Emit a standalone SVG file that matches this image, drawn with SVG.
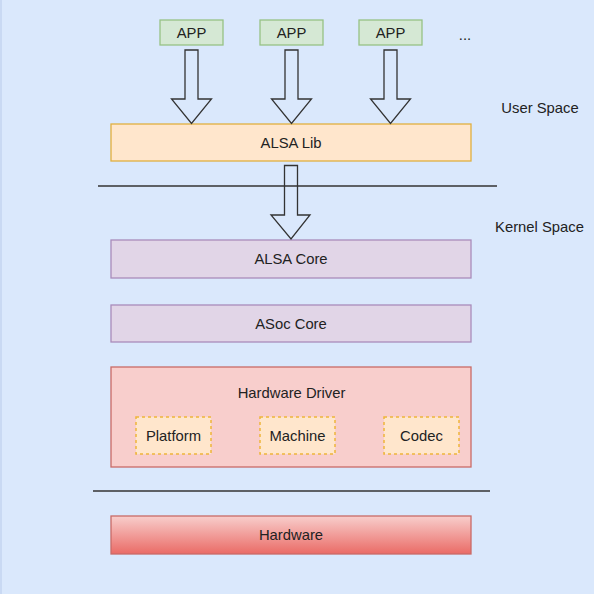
<svg xmlns="http://www.w3.org/2000/svg" width="594" height="594" viewBox="0 0 594 594">
<defs>
<linearGradient id="hwg" x1="0" y1="0" x2="0" y2="1">
<stop offset="0" stop-color="#f8cecc"/>
<stop offset="1" stop-color="#ea6b66"/>
</linearGradient>
<style>
text{font-family:"Liberation Sans",Arial,sans-serif;font-size:14.8px;fill:#222;text-anchor:middle}
.app{fill:#d5e8d4;stroke:#97c285;stroke-width:1.3}
.lib{fill:#ffe6cc;stroke:#e0b040;stroke-width:1.3}
.core{fill:#e1d5e7;stroke:#a98cbb;stroke-width:1.3}
.drv{fill:#f8cecc;stroke:#c96b67;stroke-width:1.3}
.sub{fill:#ffe6cc;stroke:#eeb53a;stroke-width:1.5;stroke-dasharray:3 3}
.hw{fill:url(#hwg);stroke:#c96b67;stroke-width:1.3}
.arrow{fill:none;stroke:#333;stroke-width:1.3;stroke-linejoin:miter}
.sep{stroke:#333;stroke-width:1.3}
</style>
</defs>
<rect x="0" y="0" width="594" height="594" fill="#dae8fc"/>
<line x1="1" y1="0" x2="1" y2="594" stroke="#c3d5f0" stroke-width="1.5"/>

<g id="separators">
<line class="sep" x1="98" y1="186" x2="497" y2="186" stroke="#444"/>
<line class="sep" x1="93" y1="491" x2="490" y2="491" stroke="#111"/>
</g>

<g id="app1"><rect class="app" x="160" y="20" width="63" height="25"/><text x="191.5" y="38">APP</text></g>
<g id="app2"><rect class="app" x="260" y="20" width="63" height="25"/><text x="291.5" y="38">APP</text></g>
<g id="app3"><rect class="app" x="359" y="20" width="63" height="25"/><text x="390.5" y="38">APP</text></g>
<g id="more"><text x="465" y="40">...</text></g>

<g id="alsa-lib"><rect class="lib" x="111" y="124" width="360" height="37"/><text x="291" y="148">ALSA Lib</text></g>

<g id="labels">
<text x="540" y="113">User Space</text>
<text x="539.5" y="232">Kernel Space</text>
</g>

<g id="alsa-core"><rect class="core" x="111" y="240" width="360" height="38"/><text x="291" y="264">ALSA Core</text></g>
<g id="asoc-core"><rect class="core" x="111" y="305" width="360" height="37"/><text x="291" y="329">ASoc Core</text></g>

<g id="hardware-driver">
<rect class="drv" x="111" y="367" width="360" height="100"/>
<text x="291.5" y="398">Hardware Driver</text>
</g>
<g id="platform"><rect class="sub" x="136" y="417" width="75" height="37"/><text x="173.5" y="441">Platform</text></g>
<g id="machine"><rect class="sub" x="260" y="417" width="75" height="37"/><text x="297.5" y="441">Machine</text></g>
<g id="codec"><rect class="sub" x="384" y="417" width="75" height="37"/><text x="421.5" y="441">Codec</text></g>

<g id="hardware"><rect class="hw" x="111" y="516" width="360" height="38"/><text x="291" y="540">Hardware</text></g>

<g id="connectors">
<path class="arrow" d="M185,50 H198 V99 H211.5 L191.5,123.5 L171.5,99 H185 Z"/>
<path class="arrow" d="M285,50 H298 V99 H311.5 L291.5,123.5 L271.5,99 H285 Z"/>
<path class="arrow" d="M384,50 H397 V99 H410.5 L390.5,123.5 L370.5,99 H384 Z"/>
<path class="arrow" d="M284.5,165.5 H297.5 V215 H310 L291,239 L271,215 H284.5 Z"/>
</g>
</svg>
